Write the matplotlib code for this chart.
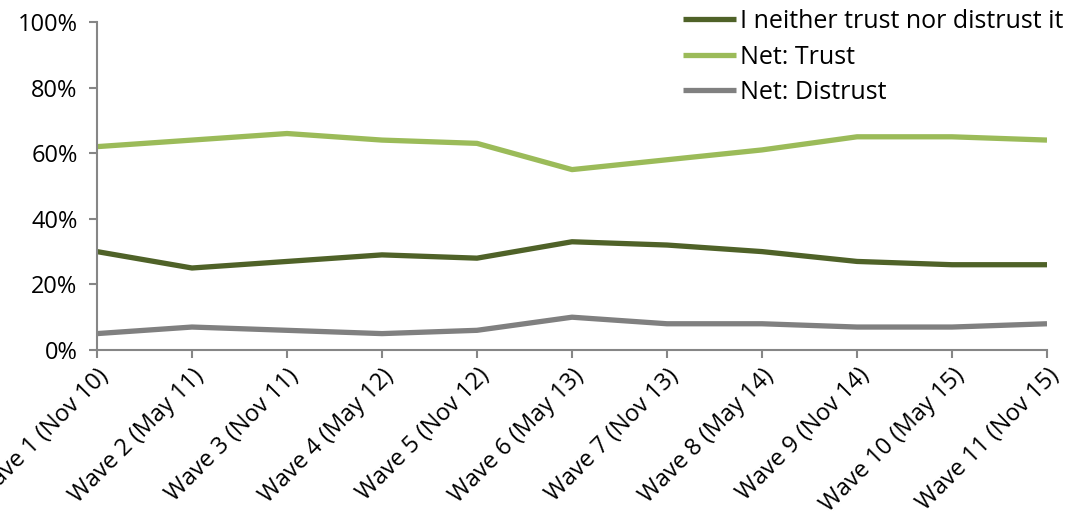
import matplotlib
matplotlib.use("Agg")
import matplotlib.pyplot as plt
from matplotlib.ticker import PercentFormatter

plt.rcParams['font.family'] = ['Open Sans', 'DejaVu Sans']

waves = ["Wave 1 (Nov 10)", "Wave 2 (May 11)", "Wave 3 (Nov 11)", "Wave 4 (May 12)",
         "Wave 5 (Nov 12)", "Wave 6 (May 13)", "Wave 7 (Nov 13)", "Wave 8 (May 14)",
         "Wave 9 (Nov 14)", "Wave 10 (May 15)", "Wave 11 (Nov 15)"]
neither = [30, 25, 27, 29, 28, 33, 32, 30, 27, 26, 26]
net_trust = [62, 64, 66, 64, 63, 55, 58, 61, 65, 65, 64]
net_distrust = [5, 7, 6, 5, 6, 10, 8, 8, 7, 7, 8]

W, H = 1076, 520
fig = plt.figure(figsize=(W / 100, H / 100), dpi=100)
ax = fig.add_axes([97 / W, 1 - 350 / H, (1047 - 97) / W, (350 - 22) / H])

x = list(range(len(waves)))
lw = 3.8
ax.plot(x, neither, color="#4F6228", lw=lw, label="I neither trust nor distrust it",
        solid_joinstyle="round", solid_capstyle="butt")
ax.plot(x, net_trust, color="#9BBB59", lw=lw, label="Net: Trust",
        solid_joinstyle="round", solid_capstyle="butt")
ax.plot(x, net_distrust, color="#808080", lw=lw, label="Net: Distrust",
        solid_joinstyle="round", solid_capstyle="butt")

ax.set_xlim(0, len(waves) - 1)
ax.set_ylim(0, 100)
ax.set_yticks(range(0, 101, 20))
ax.yaxis.set_major_formatter(PercentFormatter(decimals=0))
ax.set_xticks(x)
ax.set_xticklabels(waves, rotation=45, ha="right", rotation_mode="anchor")

for side in ("top", "right"):
    ax.spines[side].set_visible(False)
for side in ("left", "bottom"):
    ax.spines[side].set_color("#868686")
    ax.spines[side].set_linewidth(1.5)
ax.tick_params(axis="both", colors="#868686", width=1.5, length=6, labelsize=17,
               labelcolor="black")
ax.tick_params(axis="x", pad=4)
ax.tick_params(axis="y", pad=8)

fig.legend(loc="upper left", bbox_to_anchor=(683 / W, 1 - 9 / H), frameon=False,
           fontsize=18, handlelength=2.1, handletextpad=0.2, labelspacing=0.42,
           borderpad=0, borderaxespad=0)

fig.savefig("out.png", dpi=100)
